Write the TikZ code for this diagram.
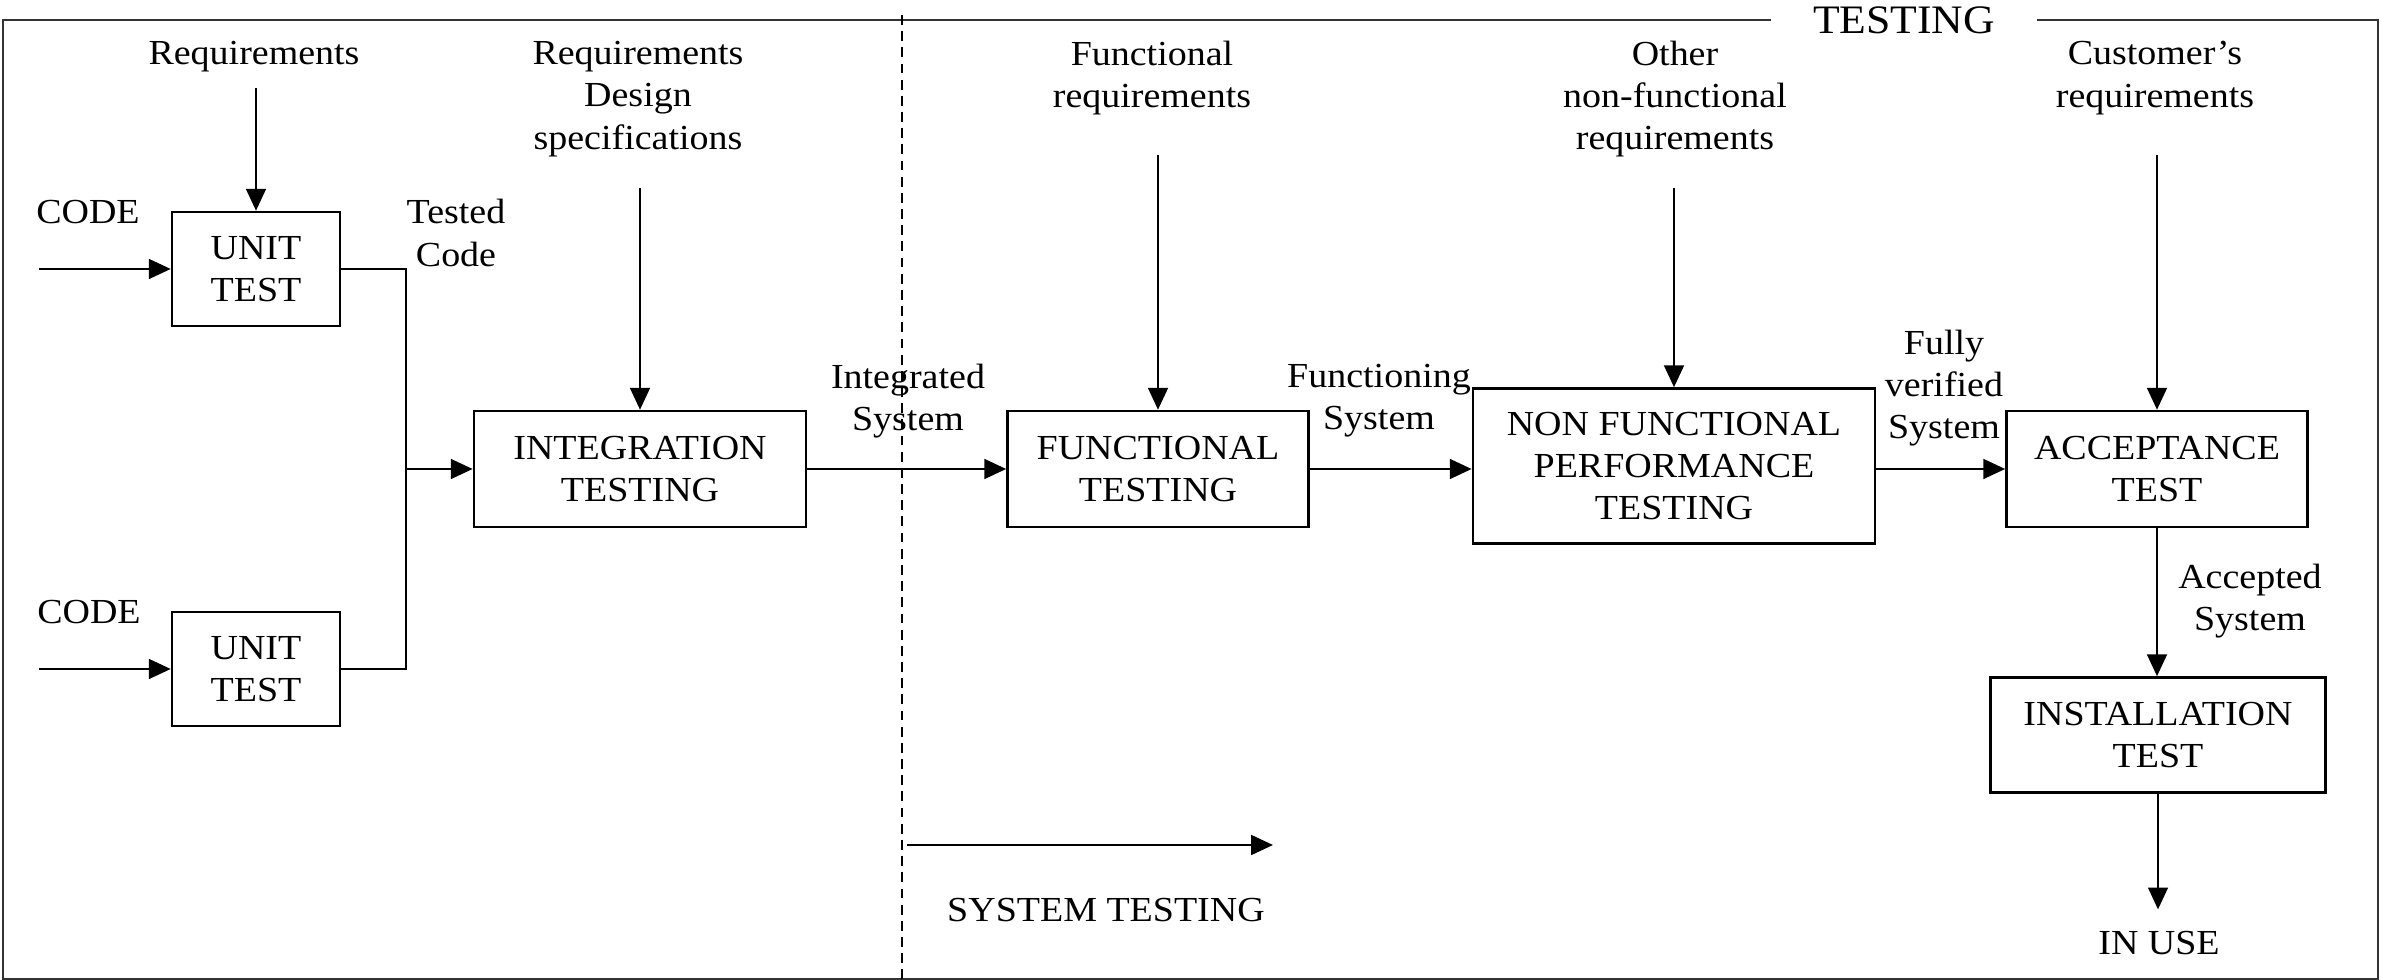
\documentclass[tikz,border=0pt]{standalone}
\usepackage{fontspec}
\setmainfont[FakeStretch=1.08]{Liberation Serif}
\usetikzlibrary{arrows.meta}

\begin{document}
\begin{tikzpicture}[x=0.01cm, y=-0.01cm,
		every node/.style={font=\fontsize{10}{12}\selectfont, align=center},
		stage/.style={draw, line width=0.7pt, inner sep=0pt},
		flow/.style={-{Triangle[length=6.2pt,width=5.6pt]}, line width=0.7pt}]
	\useasboundingbox (0,0) rectangle (2381,980);

	% boxes
	\node[stage, minimum width=1.68cm, minimum height=1.14cm] (unit1) at (256,269) {UNIT\\TEST};
	\node[stage, minimum width=1.68cm, minimum height=1.14cm] (unit2) at (256,669) {UNIT\\TEST};
	\node[stage, minimum width=3.32cm, minimum height=1.16cm] (integ) at (640,469) {INTEGRATION\\TESTING};
	\node[stage, minimum width=3.01cm, minimum height=1.16cm] (func) at (1158,469) {FUNCTIONAL\\TESTING};
	\node[stage, minimum width=4.02cm, minimum height=1.55cm] (nfp) at (1674,466) {NON FUNCTIONAL\\PERFORMANCE\\TESTING};
	\node[stage, minimum width=3.01cm, minimum height=1.16cm] (accept) at (2157,469) {ACCEPTANCE\\TEST};
	\node[stage, minimum width=3.35cm, minimum height=1.15cm] (install) at (2158,735) {INSTALLATION\\TEST};

	% labels
	\node (req) at (254,57) {Requirements};
	\node (code1) at (88,212) {CODE};
	\node (code2) at (89,612) {CODE};
	\node (tested) at (456,233) {Tested\\Code};
	\node (design) at (638,99) {Requirements\\Design\\specifications};
	\node (integsys) at (908,401) {Integrated\\System};
	\node (funcreq) at (1152,78) {Functional\\requirements};
	\node (funcsys) at (1379,401) {Functioning\\System};
	\node (otherreq) at (1675,99) {Other\\non-functional\\requirements};
	\node (verified) at (1944,388) {Fully\\verified\\System};
	\node (custreq) at (2155,78) {Customer’s\\requirements};
	\node (acceptsys) at (2250,601) {Accepted\\System};
	\node[inner sep=6pt] (inuse) at (2159,943) {IN USE};
	\node (systest) at (1106,910) {SYSTEM TESTING};
	\node[font=\fontsize{11.5}{13}\selectfont, minimum width=2.65cm, inner sep=0pt] (title) at (1904,20) {TESTING};

	% frame and divider
	\draw[line width=0.6pt, black!80] (title.west) -| (3,979) -| (2378,20) -- (title.east);
	\draw[line width=0.6pt, dash pattern=on 2.8pt off 1.8pt] (902,15) -- (902,979);

	% free ends
	\coordinate (in1) at (39,269);
	\coordinate (in2) at (39,669);
	\coordinate (join) at (406,469);
	\coordinate (r1) at (256,88);
	\coordinate (r2) at (640,188);
	\coordinate (r3) at (1158,155);
	\coordinate (r4) at (1674,188);
	\coordinate (r5) at (2157,155);
	\coordinate (s1) at (907,845);
	\coordinate (s2) at (1273,845);

	% connectors
	\draw[flow] (in1) -- (unit1.west);
	\draw[flow] (in2) -- (unit2.west);
	\draw[line width=0.7pt] (unit1.east) -| (join);
	\draw[line width=0.7pt] (unit2.east) -| (join);
	\draw[flow] (join) -- (integ.west);
	\draw[flow] (r1) -- (unit1.north);
	\draw[flow] (r2) -- (integ.north);
	\draw[flow] (r3) -- (func.north);
	\draw[flow] (r4) -- (nfp.north);
	\draw[flow] (r5) -- (accept.north);
	\draw[flow] (integ.east) -- (func.west);
	\draw[flow] (func.east) -- (func.east -| nfp.west);
	\draw[flow] (nfp.east |- accept.west) -- (accept.west);
	\draw[flow] (accept.south) -- (accept.south |- install.north);
	\draw[flow] (install.south) -- (install.south |- inuse.north);
	\draw[flow] (s1) -- (s2);
\end{tikzpicture}
\end{document}
